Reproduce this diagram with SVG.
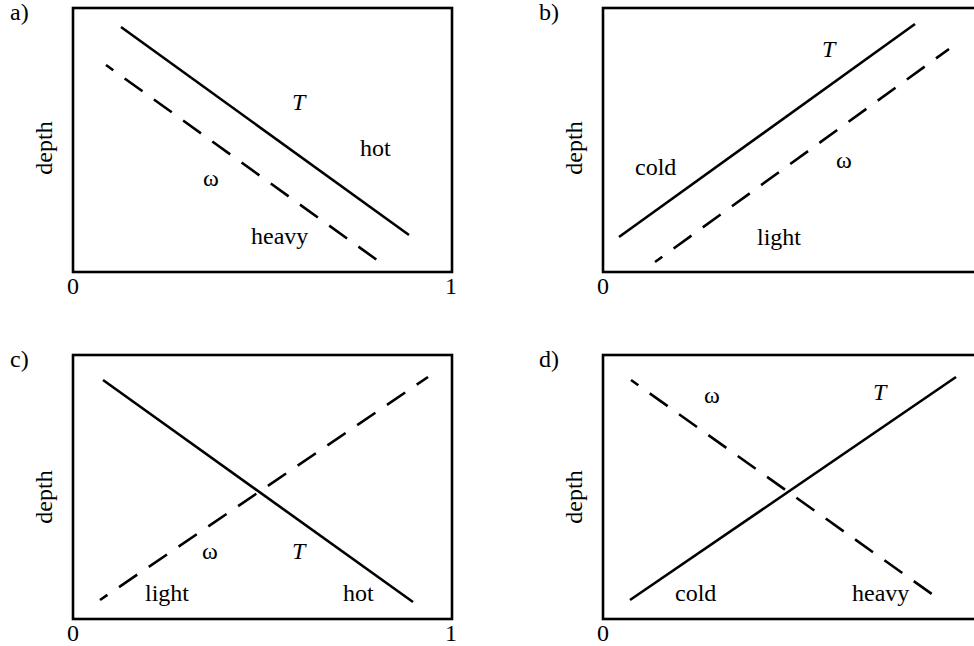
<svg xmlns="http://www.w3.org/2000/svg" width="974" height="646" viewBox="0 0 974 646">
<style>
text{font-family:"Liberation Serif","Times New Roman",serif;font-size:24px;fill:#000}
.it{font-style:italic}
.mid{text-anchor:middle}
.box{fill:none;stroke:#000;stroke-width:2.6}
.sol{stroke:#000;stroke-width:2.6;fill:none}
.dash{stroke:#000;stroke-width:2.6;fill:none;stroke-dasharray:22 14}
</style>
<rect width="974" height="646" fill="#fff"/>
<g id="panel-a">
<text x="10" y="20">a)</text>
<rect class="box" x="73" y="8" width="379" height="264"/>
<text class="mid" transform="translate(52,148) rotate(-90)">depth</text>
<text class="mid" x="73" y="294">0</text>
<text class="mid" x="451" y="294">1</text>
<text class="it" x="292" y="110">T</text>
<text x="360" y="156">hot</text>
<text x="203" y="186">ω</text>
<text x="251" y="244">heavy</text>
</g>
<g id="panel-b">
<text x="539" y="20">b)</text>
<rect class="box" x="603" y="8" width="379" height="264"/>
<text class="mid" transform="translate(582,148) rotate(-90)">depth</text>
<text class="mid" x="603" y="294">0</text>
<text class="it" x="822" y="57">T</text>
<text x="635" y="175">cold</text>
<text x="836" y="168">ω</text>
<text x="757" y="245">light</text>
</g>
<g id="panel-c">
<text x="10" y="367">c)</text>
<rect class="box" x="73" y="355" width="379" height="264"/>
<text class="mid" transform="translate(52,497) rotate(-90)">depth</text>
<text class="mid" x="73" y="641">0</text>
<text class="mid" x="451" y="641">1</text>
<text x="202" y="559">ω</text>
<text class="it" x="292" y="559">T</text>
<text x="145" y="601">light</text>
<text x="343" y="601">hot</text>
</g>
<g id="panel-d">
<text x="539" y="367">d)</text>
<rect class="box" x="603" y="355" width="379" height="264"/>
<text class="mid" transform="translate(582,497) rotate(-90)">depth</text>
<text class="mid" x="603" y="641">0</text>
<text x="704" y="403">ω</text>
<text class="it" x="873" y="400">T</text>
<text x="675" y="601">cold</text>
<text x="852" y="601">heavy</text>
</g>
<g id="connectors">
<line class="sol" x1="121" y1="27" x2="409" y2="235"/>
<line class="dash" x1="106" y1="65" x2="377" y2="260" stroke-dashoffset="13"/>
<line class="sol" x1="619" y1="237" x2="915" y2="24"/>
<line class="dash" x1="655" y1="262" x2="949" y2="49" stroke-dashoffset="13"/>
<line class="sol" x1="103" y1="380" x2="413" y2="602"/>
<line class="dash" x1="100" y1="600" x2="428" y2="377" stroke-dashoffset="13"/>
<line class="sol" x1="630" y1="600" x2="956" y2="377"/>
<line class="dash" x1="631" y1="380" x2="943" y2="602" stroke-dashoffset="13"/>
</g>
</svg>
